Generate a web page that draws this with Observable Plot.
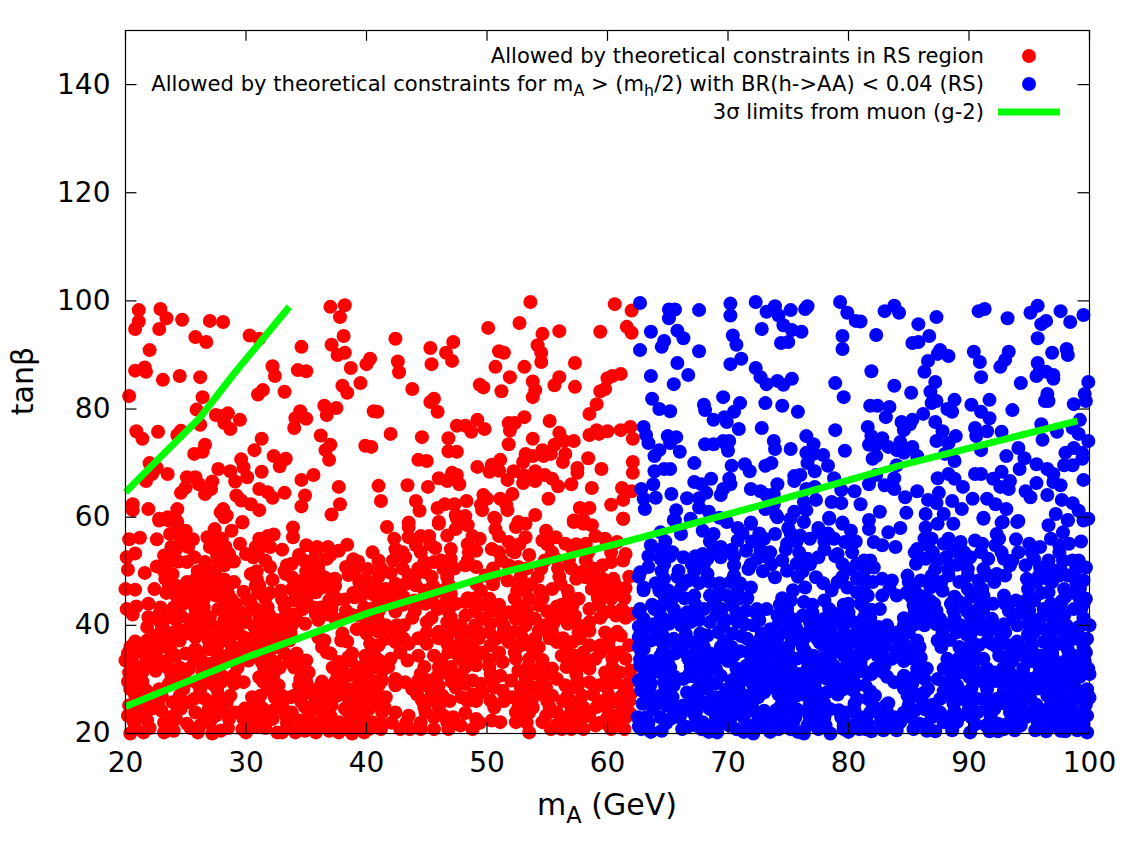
<!DOCTYPE html>
<html><head><meta charset="utf-8">
<script src="https://cdn.jsdelivr.net/npm/d3@7"></script>
<script src="https://cdn.jsdelivr.net/npm/@observablehq/plot@0.6"></script>
<style>html,body{margin:0;padding:0;background:#fff}svg{display:block}</style>
</head><body><div id="chart"></div>
<script>
const redUpper = [[21.1,98.3],[22.9,98.5],[23.4,96.8],[21.1,96.2],[20.8,94.8],[22.8,94.8],[24.7,96.5],[27,96.3],[28.1,96.1],[25.8,93.3],[26.7,92.4],[30.3,93.6],[31.1,93],[22,90.9],[20.8,87.1],[21.6,87.7],[21.7,86.9],[23.1,85.4],[24.5,86.1],[26.2,85.9],[20.3,82.4],[26.4,82.2],[25.9,79.9],[27.5,78.9],[28.5,79.2],[28,78.7],[28.2,77.4],[28.7,76.3],[29.5,78],[26.2,77.1],[20.9,75.9],[21.4,74.5],[22.7,75.8],[24.6,76],[24.3,75.2],[26.6,73.4],[25.7,71.7],[26.4,72.1],[22,70],[22.6,69.1],[22.2,68],[21.7,66.7],[23.5,68],[25.1,67.4],[25.8,67.4],[25,65.5],[24.6,64.5],[26.1,66.1],[26.6,64.3],[27.2,66.6],[27.1,65.2],[27.7,68.9],[28.7,68.5],[29.6,70.7],[29.8,69.2],[30.1,67.4],[29.1,66.6],[31.3,68.4],[31.3,74.5],[30.7,72.4],[32.3,71.3],[33.3,70.8],[32.8,69.4],[35.6,67.8],[34.6,66.9],[31.1,65.2],[31.8,64.6],[32.2,63.6],[33.2,64.5],[29.2,64],[29.6,63.1],[30.4,62.4],[31.1,61.3],[20.6,62.4],[20.6,61.3],[21.9,61.5],[24.3,61.5],[28.1,61.5],[27.9,60.9],[28.4,60.3],[22.8,59.7],[23.5,60],[24.2,59.4],[34.9,64],[34.6,62],[37.7,65.6],[37.8,62.4],[37.1,60.5],[29.7,59.1],[37,98.9],[38.2,99.2],[37.8,97],[38.1,93.5],[37.1,91.9],[34.6,91.5],[38.2,90.4],[37.6,90],[38.7,87.6],[40,88.3],[40.3,89.3],[32.2,87.9],[32.4,86.1],[34.3,87.2],[35,87],[39.5,84.8],[38,84.3],[38.4,83],[33.2,83.2],[31.4,83.5],[31,82.7],[36.5,80.6],[36.7,78.9],[37.5,80.2],[34.5,79.6],[34.1,78.3],[35,78.2],[34,76.5],[36.2,75.1],[37,73.4],[36.6,72.4],[36.9,70.6],[40.6,79.6],[39.9,73.2],[40.4,73],
[53.6,99.8],[60.6,99.4],[62,98.2],[52.7,95.9],[50.1,95],[56,94.4],[54.6,93.9],[59.4,94.3],[61.6,95.2],[62,94.1],[42.4,93],[47.2,92.4],[45.3,91.3],[46.6,90.4],[47.1,88.9],[45.4,88.3],[42.6,88.8],[42.7,86.8],[51,90.7],[51.4,90.4],[54.2,91.8],[54.5,90.4],[54.5,88.7],[50.7,87.8],[53.1,87.8],[57.3,88.5],[51.9,85.9],[49.4,84.5],[49.7,84],[51.2,83.3],[53.8,85.1],[54,83.5],[53.8,82.2],[56,85.9],[55.6,84.4],[57.3,84.1],[61.1,86.5],[60.4,86.1],[60,85.7],[59.8,83.7],[59.4,83.3],[59.1,80.9],[58.5,79.1],[43.8,83.7],[45.6,81.9],[45.3,81.3],[45.9,79.5],[40.9,79.5],[53.1,78.5],[55.2,77.8],[51.8,77.4],[52.3,77.4],[51.9,76],[49.2,78],[47.5,76.9],[48.2,76.9],[48.7,75.8],[49.8,76.3],[42,75.4],[44.6,74.8],[46.8,74.6],[53.8,74.5],[56,75.6],[51.8,73.5],[57.2,74.1],[56.4,74.1],[55.6,73.4],[58.5,75.2],[59.1,76.1],[59.3,75.4],[60,75.9],[61.1,76.1],[61.9,76.7],[62.1,74.5],[54.6,72.4],[55.3,71.7],[53.2,71.7],[53.8,71.3],[54.7,71.3],[53,70.2],[56.5,71.7],[56.3,70.2],[58.4,70.9],[57.5,69.1],[57.5,68.2],[59.5,68.9],[62.1,70.2],[62.1,68.2],[46.8,72.2],[47.5,72.1],[44.3,70.6],[45,70.4],[49.2,69.3],[51.1,70.6],[50.4,69.7],[50.2,68.4],[51,68.6],[52.2,68.5],[51.7,66.9],[53,67.8],[53,66.3],[54,68.5],[54,66.7],[54.8,67.8],[55.4,67.1],[55.9,65.7],[57,66.1],[58.7,65.4],[61.2,65.4],[62,64.8],[61.3,63.2],[60.3,62.3],[46,67.2],[46.7,66.7],[47.1,68.2],[47.5,67.8],[47.7,66.1],[45.1,65.6],[43.4,65.9],[41,65.8],[41.2,63],[44.1,63],[44.4,61.2],[45.9,61.7],[46.5,62.4],[47.3,62.4],[48.3,63],[49.7,64.1],[50,63.4],[49.5,62.3],[49.6,61.3],[51.1,63.4],[51.6,62.3],[51.7,61.3],[52.1,64.3],[55.1,63.4],[57.7,61.7],[58.5,61.7],[54,60.4],[50.6,59.9],[47.4,60.4],[48.2,60.2],[46,59.1],[61.3,59.7],[57.2,59.4],[58,59.5],[52.6,59.1],[43.5,59]];
const redLowerLeft = [[22.8,59.4],[23.6,59.4],[24.3,59.1],[28.2,60],[28.8,57.5],[29.7,59],[20.3,55.9],[21.2,56.2],[22.6,55.9],[23.7,56.9],[24.3,57.5],[25,57.5],[25.6,55.9],[26.8,56.3],[27.4,57.8],[28,56],[31.1,56],[31.8,56.5],[32.3,56.8],[33.9,58.1],[33.9,56.3],[20.8,53.3],[20.1,52.6],[23.2,52.9],[24.2,54.1],[27.5,53.8],[28.6,53.2],[29.5,55.1],[30,53.2],[31.2,54.5],[33,54],[35,54.8],[35.9,54.5],[37.7,53.8],[38.4,54.9],[40.5,53.5],[20.2,50.3],[21.6,49.7],[22.6,50.9],[23.6,51.7],[25.1,51.7],[25.7,52.6],[26.6,51.7],[28.2,51.1],[30.6,52.6],[31.6,52],[32,50.8],[33.4,51.1],[33.8,51.4],[34.8,52],[35.8,53.5],[36.7,52.3],[36,51.1],[38.9,52.2],[38.3,50.8],[40.1,50.4],[23.3,48.6],[23.9,49.5],[26.6,49.1],[27.5,49.2],[30.4,49.5],[33.3,49.5],[33.8,48.9],[32.2,48.4],[35.4,48.6],[36.5,48.9],[37.4,48.6],[38.5,49.3],[39.4,48],[20,46.7],[20.8,46.6],[22.4,46.7],[23.6,47],[25.1,48],[25.4,47.4],[27.7,47.4],[29,48],[29.8,46.2],[31.1,47.4],[32.9,46.4],[33.8,46.7],[35.8,46.1],[36.3,47],[39.9,47],[40.5,45.8],[20.1,43],[20.9,43.5],[21.9,44],[24.2,45.5],[24.8,44],[26.4,45.8],[27.5,45.5],[28.3,44.3],[29.1,44],[30.4,44],[31.6,44.9],[34,44.6],[36.9,44.6],[39,45.2],[39.6,45.5],[21.9,41.5],[22.8,42.1],[23.5,41.5],[24.6,41.8],[25.8,43],[27,41.5],[27.7,43],[29.4,42.7],[30.8,43],[33.3,41.8],[34.7,43],[35.8,42.1],[37.1,43],[38.3,42.7],[37.4,41.2],[39.4,41.8],[40.1,41.5],[23,40],[24,38.7],[25.7,40],[27,40],[28.7,40.6],[30,40.6],[31.1,41.2],[32.2,40],[33,40.6],[33.8,40],[34.9,40.3],[39.2,39.3],[20.8,37],[22.5,38.1],[23.6,37.2],[24.7,39],[25.8,37.8],[27.2,37.5],[28.6,38.7],[29.8,37.8],[30.8,38.4],[32.2,37.8],[33.1,36.9],[36,37.8],[38.4,37],[40.3,36.6],[20.6,34.4],[21.4,35],[22.4,36],[23.7,35.6],[25.8,35.6],[26.9,35.6],[28.7,36.6],[30.8,36],[36.7,35],[39.9,34.4],[20.6,32.9],[21.7,33.2],[22.8,33.5],[24.2,34.4],[25.7,33.2],[27,32.9],[28.4,34.4],[29.4,33.8],[31.3,33.2],[32.4,33.2],[33.6,33.2],[34.7,33.2],[37.7,33.2],[38.5,34.1],[20.3,31.3],[21.4,31.3],[22.5,31.6],[23.5,32.2],[25.3,32],[26.4,31.3],[28,30.7],[31.1,30.4],[32.3,31],[34.5,30.1],[35.2,31.3],[38,32.6],[39.1,31.3],[40.2,31.6],[20.8,28.9],[21.7,28],[23.6,29.2],[24.4,30.1],[25.8,29.5],[27.2,29.2],[29,29.2],[29.8,29.5],[32,28.6],[32.7,28.9],[34.4,28.9],[34.9,27.6],[36.9,28.6],[38,29.5],[38.8,28.2],[40.2,28.9],[20.3,25.2],[21.9,26.1],[23.9,25.8],[24.7,25.8],[25.7,26.4],[26.6,26.4],[27.7,27],[30.5,26.7],[32.4,26.7],[33.7,26.7],[35.5,27.3],[36.9,26.4],[38.3,27],[39.9,26.1],[20.6,23.3],[21.5,23.9],[23,24.2],[25.8,23.9],[26.9,24.5],[28,25.2],[29.1,23.9],[30.5,24.9],[31.6,23.9],[32.4,24.5],[33.8,23.9],[34.9,24.9],[36.3,23.9],[37.1,25.2],[38.5,23.9],[40.2,24.5],[20.7,22.1],[21.8,22.4],[24.2,22.7],[25.1,21.8],[26.2,21.5],[27.5,23.3],[28.6,22.7],[29.8,22.7],[31.1,22.4],[32.2,22.7],[34.4,22.4],[35.2,22.7],[36.5,21.8],[37.7,22.1],[39.4,22.7],[40.5,22.1],[20.4,20],[21.5,20.2],[23.2,20.2],[24,20.5],[27.2,20],[27.9,20.5],[29.7,20.8],[30.8,21.2],[32.6,20.2],[34.1,20.2],[34.9,20.5],[36.9,20.5],[38,20.8],[38.8,20],[40.2,20.8]];
const redLowerRight = [[41.7,58.2],[43.5,58.2],[46,58.8],[47.5,59.7],[48.4,58.5],[50.7,59.7],[50.7,57.8],[52.4,58.2],[53.2,58.8],[53.2,56.3],[57.2,59.1],[58,58.8],[58.7,58.5],[61.3,59.7],[42.3,56],[43.5,56.3],[46.7,56.6],[47.4,57.8],[49.4,56],[51.8,55.4],[54.9,57.5],[54.6,55.7],[55.7,56.3],[56.5,55.1],[58.2,55.1],[59.8,56],[60.8,55.4],[44.1,54.8],[42.4,54.1],[45.7,54.3],[47,54.1],[49.1,53.8],[50.4,54.1],[52.1,53.8],[53.5,53],[57.1,54.1],[61.5,53.2],[41,52],[43.2,52.6],[44.8,51.7],[45.6,51.7],[47,52.3],[48.2,51.1],[49.1,50.8],[51.8,51.1],[52.6,50.8],[55.7,52.3],[59.6,51.1],[60.3,51.7],[42,49.7],[43.5,49.3],[44.9,49.8],[46.4,50.4],[46.7,48.9],[49.9,49.2],[51.7,48.3],[57.8,49.8],[58.2,48.9],[59.6,48.6],[60.5,48.6],[40.9,45.5],[41.6,46.7],[42.4,47.7],[43.1,45.2],[44.1,47.4],[45.5,47.4],[46,46.4],[47,45.8],[49.1,47.7],[50.2,44.9],[53.2,46.4],[55.4,46.7],[56.1,47.7],[57.4,48.6],[56.8,45.5],[57.6,44.9],[58.7,46.7],[61.5,46.9],[41.4,43.7],[44,44.6],[44.9,44],[45.9,43],[47.4,44],[48.2,44.3],[51.8,42.4],[52.6,43.7],[53.5,44.9],[54.3,43.7],[55.8,43.5],[57.1,43.7],[58.5,43],[60.3,44.9],[61.2,43],[59.8,42.4],[41.6,40],[43.1,40],[45,40.6],[46.7,40.6],[48.2,41.8],[49.6,41.2],[50.3,40.3],[52.4,41.2],[54,41.2],[55.5,40.3],[57.3,41.8],[58.5,40.6],[60.7,41.8],[62,42.1],[41.6,37.5],[43.1,37.5],[45,38.7],[47,38.7],[48.5,38.7],[50.2,38.7],[51.4,39],[52.9,37.8],[54.3,39],[56.7,40.3],[57.6,38.7],[58.5,39],[59.8,38.7],[61.1,38.1],[42.4,36.9],[43.5,36.6],[45,36.6],[45.6,34.4],[44.3,34.4],[46.7,36.6],[47.7,36],[48.8,36.3],[50.3,36.3],[51.8,36.9],[54.3,36],[55.8,36.9],[57.1,36.9],[58.5,36.3],[60.1,36],[42,33.8],[43.4,33.5],[47.7,33.8],[49.1,34.1],[51.3,33.2],[52.4,33.8],[53.5,33.8],[54.3,32],[56.2,34.4],[57.3,34.4],[59,33.8],[60.4,33.8],[61.5,33.8],[41.3,31.6],[42.4,30.1],[43.2,29.5],[45.9,30.7],[46.8,31],[49.1,32.6],[51.1,30.7],[52.6,31.6],[55.4,32],[58.5,32],[59.8,31.3],[61,31.3],[61.9,31.6],[41,28.9],[42.4,28.9],[43.8,28.2],[44.9,28.9],[46,28.9],[47.1,29.5],[48.2,29.2],[49.5,29.2],[54.9,28.6],[55.8,30.1],[56.5,28.9],[58.5,29.5],[59.3,28.9],[60.7,29.5],[61.8,29.5],[41.6,26.7],[44.6,26.1],[46.3,27],[47.9,26.7],[49.6,27.6],[50.3,26.1],[51.3,27.9],[52.1,26.7],[52.9,25.8],[54.3,27.3],[55.4,27],[56.7,27],[57.9,27],[60.1,27],[61.2,27],[41.3,23.9],[42.4,23.9],[43.5,23.3],[44.9,23.9],[46.4,23.3],[48.2,23.8],[49.1,22.7],[50.4,22.4],[51.1,22.1],[52.4,23.9],[53.5,23.9],[54.9,23.3],[55.8,23.9],[57.3,23.9],[58.5,23.3],[59.1,24.9],[60.7,23.3],[61.8,23.9],[41.2,21.8],[42.8,20.8],[44.5,20.8],[45.6,20.8],[46.7,22.1],[47.8,21.5],[48.8,20.8],[52.4,22.1],[53.5,20.2],[54.6,22.1],[55.7,21.5],[57,20.8],[58,20.8],[59,21.5],[60.1,21.5],[61.4,20.8]];
const blueUpper = [[62.7,99.6],[65.1,98.4],[65.6,98.4],[65.1,96.8],[67.6,98.3],[70.2,99.5],[70.2,97.3],[72.3,99.8],[73.2,98],[73.9,99],[74.2,97.3],[75.2,98.3],[76.4,98.5],[76.6,99],[79.3,99.8],[79.9,97.8],[80.6,96.3],[63.6,94.3],[65.8,94.5],[66.3,93.1],[64.7,92.6],[64.5,91.5],[62.7,90.9],[67.6,90.7],[70.4,93.6],[70.7,91.9],[72.8,94.8],[74.6,95.5],[75.3,94.6],[76.1,94.3],[74.4,92.2],[75,92.4],[79.5,93.5],[79.5,91.1],[65.8,88.5],[66.7,86.3],[63.6,86.1],[65.5,84.6],[70.2,88.3],[71.1,89.3],[72.3,87.6],[72.7,85.9],[73.2,84.6],[74.1,85.2],[74.6,84.5],[75.3,85.6],[78.9,84.8],[79.6,82.2],[63.7,81.9],[64.3,80],[65.2,79.6],[68,80.8],[68.1,79.8],[69.6,82.2],[71,81.1],[70.5,79.5],[69.7,78.5],[69.9,77.6],[68.8,78],[73.1,81.1],[74.5,80.6],[75.8,79.5],[63,76.7],[63.2,75.2],[63.4,73.7],[65,75],[65.7,74.8],[65.2,73.7],[70.9,76.3],[72.8,76.5],[78.9,76.1],[76.5,75],[77.1,73.5],[73.8,74.1],[73.9,72.6],[75.2,72.6],[79.7,72.3],[64.3,72.4],[63.9,71.3],[66,72.1],[68.1,73.5],[68.8,73.5],[69.6,74.1],[70.1,74.1],[69.9,73.2],[70,72.3],[67.2,70],[70.3,69.5],[71.4,69.8],[71.8,68.5],[73.1,69.5],[73.6,70],[76.5,71.9],[77.1,71.7],[77.9,71.5],[76.6,70],[78.3,69.5],[77.2,68.5],[63.9,68.5],[64.7,68.9],[65.2,68.9],[63.8,66.1],[62.8,65.2],[63,63.4],[64,63.6],[65.3,64.3],[67.2,66.5],[68.6,67.1],[67.8,66.1],[68.2,64.5],[66.6,63.5],[67.6,63.5],[70.1,67.1],[70.2,66.1],[69.6,65.2],[69.4,64.1],[71.9,65.2],[72.7,64.8],[74.1,66.1],[73.8,64.3],[73.2,64.1],[75.5,66.7],[76,67.8],[75.5,67.6],[78.8,67.2],[77.2,65.6],[76.5,65.2],[79.4,65],[80.5,64.8],[78.6,62.8],[79.4,62.6],[77.3,63.2],[76.3,62.8],[73.8,62.4],[73.1,61.5],[67.6,61.8],[68.4,61],[65.7,61.3],[63.1,61.5],[75.5,61],[76.5,61.3],[74,60.4],[78.4,59.9],[79.5,59],[71.9,59],[65.5,59.5],[66.9,59.7],[69.3,59.9],
[83,98.1],[83.8,99.1],[84.2,97.8],[85.8,95.7],[87.3,97],[90.8,98.1],[91.3,98.5],[93.2,96.8],[95.1,97.8],[95.7,99.1],[97.6,98.1],[99.5,97.4],[98.4,96.1],[96,95.7],[96.4,96.3],[82.3,93.7],[86.7,93.5],[85.3,92.2],[85.8,92.4],[95.7,93.1],[87.6,90.9],[87.4,90.2],[88.3,89.8],[90.4,90.6],[90.9,88.7],[93.3,90.6],[93,89.1],[92.6,87.8],[96.9,90.4],[98.1,91.1],[98.2,90],[86.6,88.9],[86.3,86.9],[81.9,87],[91,85.9],[95.7,88.5],[95.9,87.2],[95.6,86.1],[96.4,86.9],[97,86.3],[97,85.6],[94.3,84.8],[99.9,85],[87.2,85],[83.8,84.3],[85.2,83],[86.8,83.2],[86.9,81.1],[87.3,81.5],[88.8,81.7],[91.7,81.7],[96.5,82.8],[96.3,81.5],[96.6,81.5],[99.6,82.8],[99.7,81.5],[98.7,80.9],[81.8,80.6],[82.4,80.6],[83.4,80.4],[83.1,78.5],[88.2,80],[88.6,79.5],[90.2,80.8],[91,79.5],[91.7,78.3],[93.6,79.8],[86.2,79.1],[85.3,78],[85.1,77.2],[84.4,77.6],[84.6,76.1],[87.2,77.6],[81.6,76.7],[87.8,75.9],[87.3,74.1],[88.9,75],[88.3,73.7],[90.5,76.5],[90.6,75],[91.5,75.9],[92.7,75.8],[96,77.2],[96.1,74.3],[97.3,75.8],[99.2,78],[98.6,76.5],[99.1,75.4],[99.9,74.1],[81.9,75],[82.8,74.6],[81.7,73.4],[82.3,73.4],[83.3,73],[84.3,73.9],[84,72.4],[84.6,71.9],[85.3,73],[85.7,71.3],[82.3,71.3],[82,70.8],[88,71.7],[88.8,70.4],[91,72.4],[94.1,72.8],[93.1,71.3],[94.6,70.9],[95.6,69.8],[94.2,68.9],[96.5,68.9],[97,68],[98,71.9],[98.7,72.8],[99.4,71.9],[97.9,69.6],[98.6,69.6],[99.4,70.8],[99.5,66.9],[97.6,65.9],[97,66.5],[95.6,66.3],[94.7,64.8],[95.1,63.7],[96.5,64.1],[84,69.6],[82.3,67.8],[81.7,66.1],[83,65.9],[83.8,65.2],[83.8,67.2],[85.7,64.8],[84.7,63.7],[84.8,60.8],[87.4,67.2],[88.3,68],[88.8,67.1],[89.5,65.6],[90.5,68],[91,68],[92,67.1],[92.7,68.4],[93.4,66.7],[92.6,65.6],[93.3,65.2],[90.3,63.4],[91.5,63.4],[92.2,62.4],[93.1,61.5],[91.2,59.9],[92.7,59],[94.1,59.3],[86.6,63.2],[87.5,64.5],[87.3,62.6],[88.6,63],[89.4,61.5],[87.9,60.6],[86.4,60.6],[82.6,61],[81.7,59.5],[81,96.2],[97.7,63.2],[98.6,62.6],[97.2,60.6],[99.1,61.2],[98.2,59.5],[99.9,59.7],[81,62.4]];
const blueLowerLeft = [[65.6,59.4],[64.4,57.2],[66.1,56.9],[67.9,57.5],[68.8,56.9],[69.9,59.1],[71.9,58.8],[74.1,60],[75.2,59.7],[76.3,59.1],[78.4,59.7],[79.5,58.8],[80.2,57.5],[63.6,54.8],[65.4,53.5],[66.3,52.6],[67.9,53.2],[69.4,54.5],[70.8,55.7],[71.5,53.8],[73,56],[73.9,56.9],[74.9,55.1],[76,56.6],[77.5,57.2],[78.8,56],[79.7,55.4],[76.8,56],[64.4,52.3],[62.7,49.8],[63.4,50.8],[65.9,50.1],[68.3,52.3],[69.4,52.6],[70.5,51.1],[71.7,50.4],[72.4,52.3],[73.5,53.5],[74.5,52],[75.9,53.5],[76.6,52.3],[75.7,51.4],[77.5,52.6],[79.1,53.2],[80.3,53.5],[80.7,51.4],[63,47],[64.7,48.6],[64.3,46.4],[66.2,47.4],[66.7,48.3],[68.3,49.5],[68.5,48],[70.2,48],[70.5,49.2],[71.9,47],[73.9,48.9],[74.9,50.1],[76.4,47],[77.3,48.9],[79.1,48],[79.9,47],[80.2,50.4],[80.7,48.6],[62.7,43],[64.7,45.5],[65.8,46.1],[67.2,45.5],[68.5,45.5],[69.9,45.5],[70.9,44.9],[75.2,44.6],[76.3,44.3],[78,44.6],[80,44],[80.7,46.1],[63,41.2],[64.4,41.8],[65.5,43],[66.6,42.4],[68,43],[69.5,43],[71.5,42.7],[73.2,43],[74.1,41.8],[76.8,40.6],[78.9,42.1],[80.4,40.6],[78,41.2],[63,39],[64,39.3],[65.1,40.3],[66.1,40],[66.9,40.6],[68.5,40.6],[70.8,40.6],[72.1,40],[73.5,39.3],[74.6,38.7],[75.7,39.3],[76.8,39],[78.5,39.3],[79.6,40],[62.6,37.8],[63.6,37.2],[65,36.9],[66.5,38.4],[66.9,36.9],[68.3,38.1],[69.2,38.7],[69.4,36],[71.6,37.5],[73,36.3],[74.1,37.5],[75,36],[76.3,37.5],[77.4,37.5],[78.8,37.8],[80.6,38.4],[79.9,36.6],[63,35.6],[64.4,34.4],[65.5,37.5],[67.3,35],[69.1,33.8],[70.5,34.4],[71.7,35],[73.5,34.4],[74.4,33.2],[75.7,33.8],[77.1,34.4],[78.2,35],[79.6,34.4],[80.7,34.4],[62.7,32.6],[64.4,31.3],[65.2,32.2],[66.7,33.8],[67.7,32],[71.6,31.3],[73,33.2],[74.1,31.3],[75.3,31.3],[76.6,32],[78,32],[79.6,32],[80.7,31.3],[62.6,29.8],[64.7,29.5],[66.3,30.1],[67.7,29.5],[69.4,30.7],[71,29.5],[72.1,28.9],[73.5,30.1],[75.2,28.9],[78.2,30.1],[79.6,30.1],[80.7,28.9],[64.4,27],[65.5,28.9],[66.6,27.6],[68.3,28.2],[69.9,28.2],[71.6,27],[73,27.6],[74.1,28.2],[75.7,27],[76.8,27],[78.2,27.6],[79.6,28.2],[80.7,26.4],[62.9,25.5],[62.5,23],[63.8,24.5],[64.9,25.2],[66.3,25.2],[67.7,25.8],[68.5,24.5],[70.2,25.8],[71.3,24.5],[74.4,25.2],[75.7,24.5],[77.1,23.9],[78.5,24.5],[79.9,23.9],[62.6,21.3],[64.5,20.5],[66.6,21.2],[67.9,22.1],[68.8,21.5],[70.2,22.7],[71.6,21.5],[73,21.2],[74.1,22.1],[75.2,20.8],[76.6,21.5],[78.1,21.5],[79.6,21.5],[80.7,22.1],[69.1,20.2],[76.3,20],[78.5,20],[72.1,20]];
const blueLowerRight = [[81.7,57.8],[83.3,57.2],[84.3,58],[82.1,55.4],[82.8,54.8],[83.9,54.5],[86.4,58.1],[87.4,58.8],[88.7,58.8],[91.2,59.7],[92.3,56.9],[92.8,59.1],[94,59.1],[93.9,55.9],[95,55.1],[95.9,54.5],[96.6,58.5],[98.2,59.4],[97.8,57.2],[98.3,55.1],[99.3,55.5],[99.5,59.4],[85.7,54.1],[87.9,55.1],[89.3,55.4],[90.5,55.7],[91.1,55.1],[90.1,52.6],[91.6,52.3],[88.1,52.6],[88.7,53.8],[92.9,52.3],[94.1,53.5],[95.4,52.3],[96.6,52],[81.4,50.4],[82.1,50.7],[85.6,51.4],[86.4,52.3],[87.2,50.4],[89,51.2],[92.3,49.5],[93.4,51.1],[94.7,51.1],[95.9,50.7],[97.6,50.4],[99.1,52],[99.7,50.7],[82.8,48.6],[83.6,48.3],[84.9,49.2],[86,48.3],[88.3,49.2],[89.9,49.2],[90.8,48.3],[92.1,48],[94.8,48.6],[96.5,48.6],[98.2,49.2],[99.5,48.3],[81.4,47.7],[81.6,45.5],[82.8,45.5],[84,45.5],[85.6,46.1],[86.8,47],[87.8,46.4],[87.1,44],[89.9,46.7],[91.2,45.5],[92.9,45.5],[95.4,44.6],[96.6,46.1],[97.9,46.7],[98.7,46.1],[99.7,44.9],[81.3,43.4],[82.6,43],[85.4,43.7],[88.5,44],[93.9,44.6],[96.2,43],[97.6,43.7],[98.7,43],[81.3,41.5],[85.3,41.2],[86.5,41.8],[87.6,41.2],[90.1,41.8],[91.2,43],[91.9,41.2],[94.3,42.4],[95.9,41.2],[97.9,41.8],[82.5,39.7],[84,38.7],[85,38.7],[86.3,40],[88.2,40],[89.3,40],[91,39.3],[92.3,39.3],[94,40],[95,40],[96.2,39.3],[97.7,39],[99.1,39.7],[81.8,37.5],[83.2,38.1],[84.6,36.6],[85.7,37.2],[87.4,37.2],[89.2,36],[90.8,36.3],[91.9,36.6],[93.3,36.3],[95.1,37.5],[96.2,36.9],[97.5,36.6],[98.7,37.5],[99.8,37.5],[81.4,34.7],[82.4,34.4],[83.6,33.8],[85.4,33.8],[88.2,33.8],[89.6,34.4],[91.2,33.8],[92.5,34.4],[94.4,34.5],[95.9,34.4],[97,33.8],[98.7,34.4],[99.7,35],[81.4,31.3],[82.9,31.3],[84.6,30.7],[85.7,32],[87.9,32],[89.3,31.3],[90.7,31.3],[92.1,31.3],[93.4,31.3],[95.1,30.1],[96.5,31.3],[97.9,31.3],[99.3,32],[81.4,28.9],[83.8,29.5],[86.3,30.1],[87.4,30.1],[89,28.9],[90.4,29.5],[91.5,28.2],[92.9,28.9],[94.3,28.9],[96.5,28.9],[98.7,28.9],[99.8,28.2],[81.6,26.4],[83.1,25.2],[84.9,27],[86.3,27.6],[87.6,26.4],[89.3,26.4],[90.7,26.4],[92.3,26.4],[93.7,27],[95.1,26.4],[96.5,27],[97.9,25.8],[99.3,26.4],[81.8,23.9],[83.2,23.9],[84.6,23.9],[86.3,24.5],[87.6,23.9],[89.3,23.3],[90.7,23.9],[92.1,24.5],[93.4,23.9],[94.8,23.9],[96.2,23.9],[97.6,23.9],[99,23.9],[99.8,23.3],[81.4,20.8],[82.7,22.1],[84.3,22.1],[85.4,20.8],[86.5,20.5],[87.9,22.1],[89,22.1],[90.1,20.2],[91.4,21.5],[92.9,20.8],[94.3,21.5],[95.7,22.1],[97.6,20.5],[98.7,21.5],[99.8,20.2],[96.5,20.8]];
const redLeftRows = [[56,[24.6,27.6]],[54.5,[23.8,25.2,27,28.3,30.8,32,36.8]],[53,[24,27.6,31,34.4,37]],[51.8,[24.4,27.7,29,35.4,39.3]],[50,[23.2,26,27.1,30.9,33.2,35,36,39]],[48.5,[25.8,27,28.2,30.9,34.8,36,37.2,39.9]],[47.3,[24.2,26.5,28.5,30.8,34,35.3,37.4,40.8]],[46,[23.4,24.5,25.6,27.2,28.5,31,32,34.7,37.2,38.9]],[44.8,[25.5,26.5,28.8,30.1,33,35,37.6,38.2]],[43.3,[22.9,24,26.5,28.4,31.8,33.2,35.6,36.2,39.8,40.7]],[42,[20.6,26.3,28.4,30,31.9,34,36.8,38.7]],[41,[22.8,24.2,25.3,28.2,29.1,32.5,34.2,36,37.8,40]],[39.7,[21.8,23.1,26.4,27.7,29.2,30.7,31.8,33.2,39.9,40.5]],[38.5,[22.9,25.3,26.5,28,29.4,31.5,32.6,33.7,38,40]],[37.2,[21.8,24.5,26.9,28,30,31.4,33.6,36.5,37.9]],[36,[20.4,21.6,23,27.6,29.6,31.9,32.6,36.3]],[34.8,[20.2,22.4,25,25.9,27.6,29.2,30.4,31.9,33.2,34.2,37,38.8,40.6]],[33.5,[20,23.5,26.3,27.9,30.2,35,38.7,40]],[32.2,[20.5,21.4,22.5,24.5,26.5,27.4,29.3,31.5,32.8,34,37.2,39.4,40.6]],[30.8,[20.8,23.8,24.9,27.3,29,32,34.8,37.6,38.6,40]],[29.6,[20.2,21.4,25,26.6,28,31.4,32.3,35,36.3,37.4,39.4,40.7]],[28.2,[20.4,22.8,24.8,26.2,27.6,31.8,35.8,37.6,39.7]],[27,[20.8,23,24.5,26.1,28.7,31.2,33,34,36.2,37.6,39.2,40.5]],[25.8,[22.7,25.3,27,28.4,31,32.9,34.6,35.8,38.8,40.8]],[24.6,[21,22.2,24.6,27.6,29.9,31.4,33.1,35.4,36.2,38.2,39.4]],[23.3,[20.2,21,24,26.4,28.5,30,31,33.3,35.2,37,39.7]],[22,[23.2,27,30.4,33.4,36,38.6,40]],[21,[20.8,22,25.4,28.5,31.6,33.4,35.6,37.2,39.2]],[20.2,[26,30,33,35.8,37.7,39.8]]];
const redRightRows = [[56.5,[44.5,45.2,48.8,51,59]],[55,[45.3,48.4,52.7,55,57.4,60]],[53.5,[43,44.5,48.5,51,52.3,55.4,58.4,60.3]],[52,[42.2,46.2,48.4,51.2,54.8,56.8,58.2,61.3]],[50.5,[41.2,43,44.3,47.3,50.5,53.3,54.5,55.9,57,58.8]],[49,[41,44,45.4,50.6,52.8,54.2,56,59,61.8]],[47.6,[43.2,46.8,50.5,52.6,53.6,59.6,60.6]],[46.4,[42.7,44.8,49.5,52.5,54.4,56.7,59.8,60.8]],[45,[42,45.4,46.7,48.4,49,52.3,54.6,59.2,61.4]],[43.8,[43,46.4,49.5,51,56.2,59.3]],[42.6,[41,42.4,44,46.8,49,50.3,53.3,55,56.3,60.3]],[41.4,[40.9,43.8,45.4,47,51.2,53,55.4,56.2,59.4,61.5]],[40,[42.5,47.8,49,51.4,53.2,54.8,57.6]],[38.8,[41,42.4,46,49.3,52.3,55.4,60.8]],[37.6,[44.3,46,47.9,49.3,50.8,54,55.2,56.3,57.7,60.2]],[36.3,[41,47,52.8,53.5,56.5,59.4,61.8]],[35,[42.8,46.8,48.1,49.6,51,52.3,53.9,56.6,58,59.4,61]],[33.6,[41,46.2,48.6,50.2,54.6,56.8,58.2]],[32.3,[41.8,44.8,46,47,48.2,50.2,53.4,56.6,57.6,60.4]],[31,[44.5,47.9,50.3,53.7,55,57.4,60.4]],[29.8,[41.3,44.3,45.2,48.8,50.5,52,53.2,54.6,57.5,59.9]],[28.5,[45.3,47.4,50.6,52.8,53.8,57.5,60,61.4]],[27.2,[40.9,44.2,45.4,48.8,53,58.8,61.9]],[26,[41,45.7,46.9,48.4,49.1,51.4,53.7,55,56.3,57.7,59.3,60.6,61.8]],[24.8,[41.5,44.8,46,50.6,52.6,53.8,55.2,57,58,60,61.2]],[23,[45.6,47.2,53,56.6,58,60,61.5]],[22,[42.1,43.3,44.5,49.4,53.3,56.4,57.6,59.4,61]],[20.8,[41.2,43.6,46.8,55.3,56.2,60.3]]];
const blueLeftRows = [[58,[70.8,75,77.5]],[57,[71.2,72.6,75.2,78.3]],[55.5,[64.8,68.5,72,75.7,78,80.6]],[54,[64.4,68.8,70.3,72.7,74.8,78]],[52.8,[63.4,65.2,67.3,70.5,73,78.9]],[51.3,[64.7,67,68,71.9,73.6,76.8,79.5]],[50,[64.5,67.2,72.9,76.2]],[49,[62.6,65.8,75.8,79.5]],[47.8,[64,67.6,69.3,71,77.9]],[46.5,[63,65,69.3,70.8,75.4,78.6]],[45,[65.4,66.4,69,71.6,74.5]],[43.8,[63.7,64.6,67.3,68.8,70.3,74.3,77,79.6]],[42.4,[62.6,67.3,70.7,72.3,77,80]],[41,[65.2,67.6,69.8,72.6,75.6,77.8,79.5]],[39.8,[62.6,64.5,69.6,74.7,77.6,80.8]],[38.5,[62.9,64.5,67.7,70.4,72.8,77.6,79.6]],[37.2,[64.4,67.8,69.7,72.6,75.3,79.8]],[36,[62.6,66,68,70.3,72,74,76.2,78]],[34.8,[65.6,68.5,72.8,75,80]],[33.4,[63.6,65,68.4,70,71.9,76.6,78.5]],[32,[63.4,69,70.7,72.3,73.8,75.2]],[30.6,[63,65.5,67,70.7,72.5,74.8,76.8,78.8,80.2]],[29.3,[63.6,65.4,69,72.8,74.4,76,77.2]],[28,[62.8,67.4,70.9,72.4,75,77.3,80.4]],[26.7,[63.4,65.4,67.5,69,70.4,72.5,74.7,77.8]],[25.5,[63.8,65.3,69.2,72,75.2,76.8,78,80.5]],[24.2,[66.9,69.5,72.1,73,75,76.5,80.5]],[23,[63.2,64.4,66,67.3,71.3,72.8,74.4,75.6,78,79.4,80.8]],[22,[63.4,64.9,69.8,72.4,75.4,77.6]],[20.8,[62.8,66.2,67.8,70.7,74.2,77.5,79.6,80.9]],
[43,[63.9,72.4,74.9,78.4]],[41.8,[66,69,71,75,76.2]],[40.2,[63.8,71.4,74.2,77.2,78.7]],[38,[64.6,71.1,73.3,75.3,76.5,78,80]],[36.8,[66,67.4,74,77.6,78.9,80.7]],[35.2,[62.8,64.6,66.2,69.6,71,74.1,76.4,79]],[33.7,[62.7,67.6,72.6,74.9,77.8,80.3]],[32.5,[64.5,66.9,71.5,74.7,77.2,78.8,80.2]],[31,[63.6,66.8,68.2,72.9,75.9,77.5,79.2]],[29.8,[68.4,70.3,71.8,75.6,76.9,80]],[28.5,[63.5,64.8,67.6,70.5,73.4,76.2,78.8,80.2]],[27.2,[65.2,69.7,74.2,76.2,79.1]],[25.7,[64.5,66.8,68.2,71,74.6,77.6]],[24.3,[65.5,67.4,70.5,74,77.6,79.2]],[22.8,[65.3,69,73.5,76.8]],[21.5,[67.3,70.1,74.8,77.3,80]],[20.3,[63.6,68.4,71.3,73.5,75.8,80]]];
const blueRightRows = [[56,[86.3,86.9,88.3,96.8,92.5]],[54.8,[86.6,92.2,97.5]],[53.5,[85.5,87,89.6,91,92.7,95.2,97.5]],[52,[81.3,81.8,87.4,89.3,93.6,97.8,98.6]],[50.4,[88.3,89.9,91.2,96.8,98.9]],[49.2,[81.2,86.9,91.6,93,95.8,97.5]],[48,[82,85,87.7,89.2,95.6,96.9,98.9]],[46.7,[83.4,85.3,91.1,94.9,99.2]],[45.3,[85.2,86.2,88.8,90.2,95,98,99.1]],[44,[81,86,89.7,92,93,96.8,99.5]],[42.7,[85.5,87.3,88.7,89.8,93.3,95,97]],[41.3,[81.8,84.6,88.8,93.7,96.9,99.5]],[40,[81,81.9,83.2,84.6,91.5,97,98.1,100]],[38.7,[82,83,87.8,89,90.2,91.6,93,95.4,99]],[37.3,[80.9,82.4,84,88.4,92.6,96.8,97.9]],[36,[81.4,83,85.9,87.7,92.3,94.2,95.2,99.5]],[34.8,[84.5,90.4,93.4,96.9,98.3]],[33.4,[81,84.6,88.9,90.5,93.6,95.2,96.6,98,99.6]],[32,[82.2,86.5,90,91.5,92.8,94.5,97.2,98.4,99.9]],[30.5,[83.2,85.5,88.6,90,92.7,94,96.4,97.8,99.2]],[29.3,[85.3,88,91.5,93.6,95.6,97.6]],[27.8,[81.8,85.3,87.9,89.3,92.9,94.9,97.8,99.1]],[26.6,[86,88.7,91.4,94,98.6,100]],[25.3,[82,85,87,90,91.5,93.2,95.6,96.8,98.5,99.7]],[24.2,[85.5,88.8,95.5,97]],[23,[83.8,85.2,88.3,90.2,91.8,93.7,96.8,98.2]],[21.8,[81.6,85.9,92.4,93.5,96.8,99.5]],[20.6,[82.9,84,88.6,93.8,95.5,99]],
[46,[84.8,90.5,96]],[44.5,[86.8,89.1,91,94.7,97.7]],[42.9,[81.9,86.4,90.7,94.8,96.5,99.3]],[41.5,[86,90.8,94.9,97.2]],[40.2,[85.5,87.3,90.2,92.9,95.7,99.6]],[38.3,[81,84.4,89.8,94.9,96.8,98.3]],[37,[83,90.2,91.5,94,99.4]],[35.5,[82,84,85,90.1,93.8,96.7,98.2]],[34,[82.9,86,89.2,94.9,96.4,99.1]],[32.6,[81,83,88.6,89.7,93.2,95.8,98.8]],[31,[81.9,88.5,91.4,94.5,95.8,98.6,100]],[29.7,[84.9,91,92.2,94.9,97,98.4]],[28.3,[84.6,86.6,88.2,90.2,93.7,95.7,97.3]],[27,[82.2,85.5,88.3,90,92.8,97.3,99.9]],[25.6,[83.3,86.2,88.7,92.6,94.4,97.5]],[24.5,[82.5,87,90,91.4,93.9,96.5,98.3]],[23,[81,82.7,86.9,94.7,95.8,99.2]],[21.7,[83.5,86.5,90.5,93.1,97.6]],[20.4,[81.9,87.2,91.7,92.4,96.4,98]]];
const limitLower = [[20,25],[30.4,34.4],[40.3,42.4],[50.3,49.2],[61.9,55.7],[72.7,62.2],[84.3,69.6],[92.6,74.2],[99,77.8]];
const limitUpper = [[20,64.6],[23.3,72],[26.1,78.2],[29.1,86.8],[33.6,98.9]];
const xTicks = [20,30,40,50,60,70,80,90,100];
const yTicks = [20,40,60,80,100,120,140];
const legendRows = ["Allowed by theoretical constraints in RS region", "3σ limits from muon (g-2)"];

const FONT = "'DejaVu Sans', sans-serif";
const unrow = rows => rows.flatMap(([y, xs]) => xs.map(x => [x, y]));
const redPoints = [...redUpper, ...redLowerLeft, ...redLowerRight, ...unrow(redLeftRows), ...unrow(redRightRows)];
const bluePoints = [...blueUpper, ...blueLowerLeft, ...blueLowerRight, ...unrow(blueLeftRows), ...unrow(blueRightRows)];
const dotR = 7;
const tick = {stroke: "#000", strokeWidth: 1.2};
const plot = Plot.plot({
  width: 1133, height: 850,
  marginLeft: 125, marginRight: 44, marginTop: 30, marginBottom: 117,
  style: {fontFamily: FONT, background: "#fff", overflow: "visible"},
  x: {domain: [20, 100], ticks: xTicks, label: null},
  y: {domain: [20, 150], ticks: yTicks, label: null},
  marks: [
    Plot.dot(redPoints, {x: d => d[0], y: d => d[1], r: dotR, fill: "#ff0000"}),
    Plot.dot(bluePoints, {x: d => d[0], y: d => d[1], r: dotR, fill: "#0000ff"}),
    Plot.line(limitLower, {x: d => d[0], y: d => d[1], stroke: "#00ff00", strokeWidth: 7, strokeLinecap: "butt", strokeLinejoin: "round"}),
    Plot.line(limitUpper, {x: d => d[0], y: d => d[1], stroke: "#00ff00", strokeWidth: 7, strokeLinecap: "butt", strokeLinejoin: "round"}),
    Plot.frame({stroke: "#000", strokeWidth: 1.2}),
    Plot.axisX({ticks: xTicks, anchor: "bottom", tickSize: 0, tickPadding: 19, fontSize: 28, label: null, tickFormat: d => d}),
    Plot.axisY({ticks: yTicks, anchor: "left", tickSize: 0, tickPadding: 15, fontSize: 28, label: null, tickFormat: d => d}),
    Plot.ruleX(xTicks, {x: d => d, y1: 20, y2: 22, ...tick}),
    Plot.ruleX(xTicks, {x: d => d, y1: 148, y2: 150, ...tick}),
    Plot.ruleY(yTicks, {y: d => d, x1: 20, x2: 20.95, ...tick}),
    Plot.ruleY(yTicks, {y: d => d, x1: 99.05, x2: 100, ...tick})
  ]
});
document.getElementById("chart").append(plot);

const svg = d3.select(plot);
const overlay = svg.append("g").attr("font-family", FONT).attr("fill", "#000");
function sub(t, base, s, size, after) {
  t.append("tspan").text(base);
  t.append("tspan").attr("dy", size * 0.25).attr("font-size", size * 0.75).text(s);
  t.append("tspan").attr("dy", -size * 0.25).text(after);
}
// axis titles
const xt = overlay.append("text").attr("x", 607).attr("y", 815).attr("text-anchor", "middle").attr("font-size", 30);
sub(xt, "m", "A", 30, " (GeV)");
overlay.append("text").attr("transform", "translate(33,381) rotate(-90)").attr("text-anchor", "middle").attr("font-size", 30).text("tanβ");
// legend
const L = 21.1;
overlay.append("text").attr("x", 984).attr("y", 63).attr("text-anchor", "end").attr("font-size", L).text(legendRows[0]);
const l2 = overlay.append("text").attr("x", 984).attr("y", 91).attr("text-anchor", "end").attr("font-size", L);
l2.append("tspan").text("Allowed by theoretical constraints for ");
sub(l2, "m", "A", L, " > (");
sub(l2, "m", "h", L, "/2) with BR(h->AA) < 0.04 (RS)");
overlay.append("text").attr("x", 984).attr("y", 119).attr("text-anchor", "end").attr("font-size", L).text(legendRows[1]);
overlay.append("circle").attr("cx", 1029).attr("cy", 56).attr("r", dotR).attr("fill", "#ff0000");
overlay.append("circle").attr("cx", 1029).attr("cy", 84).attr("r", dotR).attr("fill", "#0000ff");
overlay.append("rect").attr("x", 998).attr("y", 108.5).attr("width", 62).attr("height", 7).attr("fill", "#00ff00");
</script></body></html>
